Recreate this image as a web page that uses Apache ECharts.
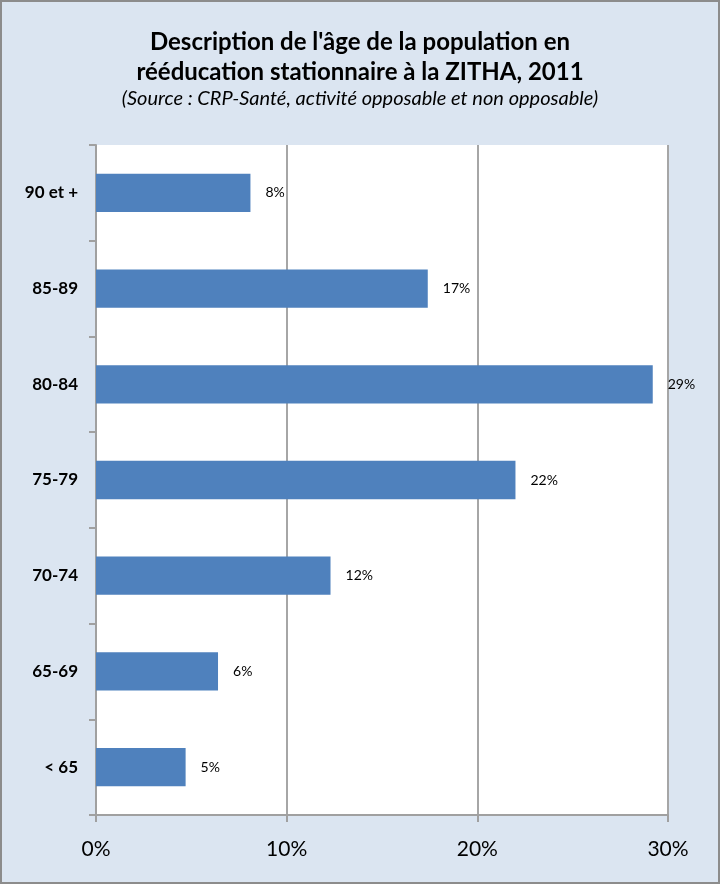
<!DOCTYPE html>
<html lang="fr">

<head>
    <meta charset="UTF-8">
    <title>Age population ZITHA</title>
    <script src="https://cdn.jsdelivr.net/npm/echarts@6/dist/echarts.min.js"></script>
    <style>
        body { margin: 0; }
        #ech { width: 720px; height: 884px; box-sizing: border-box; border: 2px solid #8c8c8c; background: #dbe5f1; }
    </style>
</head>

<body>
    <div id="ech"></div>
    <script>
        // categories du bas vers le haut
        let categories = ['< 65', '65-69', '70-74', '75-79', '80-84', '85-89', '90 et +'];
        let values = [4.7, 6.4, 12.3, 22.0, 29.2, 17.4, 8.1];
        let xTicks = [0, 10, 20, 30];

        let my_echart = echarts.init(document.getElementById('ech'));
        let font = 'Lato, "Liberation Sans", sans-serif';
        let option = {
            backgroundColor: '#dbe5f1',
            textStyle: { fontFamily: font },
            title: {
                left: 'center',
                top: 20,
                text: "Description de l'âge de la population en\nrééducation stationnaire à la ZITHA, 2011",
                textStyle: { fontSize: 24, fontWeight: 'bold', color: '#000', lineHeight: 30, fontFamily: font },
                subtext: '(Source : CRP-Santé, activité opposable et non opposable)',
                subtextStyle: { fontSize: 20, fontStyle: 'italic', color: '#000', fontFamily: font },
                itemGap: 2
            },
            grid: { left: 94, right: 50, top: 143, bottom: 67, show: true, backgroundColor: '#fff', borderWidth: 0 },
            xAxis: {
                type: 'value',
                min: xTicks[0],
                max: xTicks[xTicks.length - 1],
                interval: 10,
                axisLine: { show: true, lineStyle: { color: '#a0a0a0', width: 2 } },
                axisTick: { show: true, length: 7, lineStyle: { color: '#a0a0a0', width: 2 } },
                axisLabel: { formatter: '{value}%', fontSize: 21, color: '#000', margin: 24, fontFamily: font },
                splitLine: { lineStyle: { color: '#a6a6a6', width: 2 } }
            },
            yAxis: {
                type: 'category',
                data: categories,
                axisLine: { show: true, lineStyle: { color: '#a0a0a0', width: 2 } },
                axisTick: { show: true, length: 7, lineStyle: { color: '#a0a0a0', width: 2 } },
                axisLabel: { fontSize: 17, fontWeight: 'bold', color: '#000', margin: 18, fontFamily: font },
                splitLine: { show: false }
            },
            series: [{
                type: 'bar',
                data: values,
                barWidth: '40%',
                itemStyle: { color: '#4f81bd' },
                label: {
                    show: true,
                    position: 'right',
                    distance: 15,
                    fontSize: 14,
                    color: '#000',
                    fontFamily: font,
                    formatter: function (p) { return Math.round(p.value) + '%'; }
                }
            }]
        };
        my_echart.setOption(option);
    </script>
</body>

</html>
